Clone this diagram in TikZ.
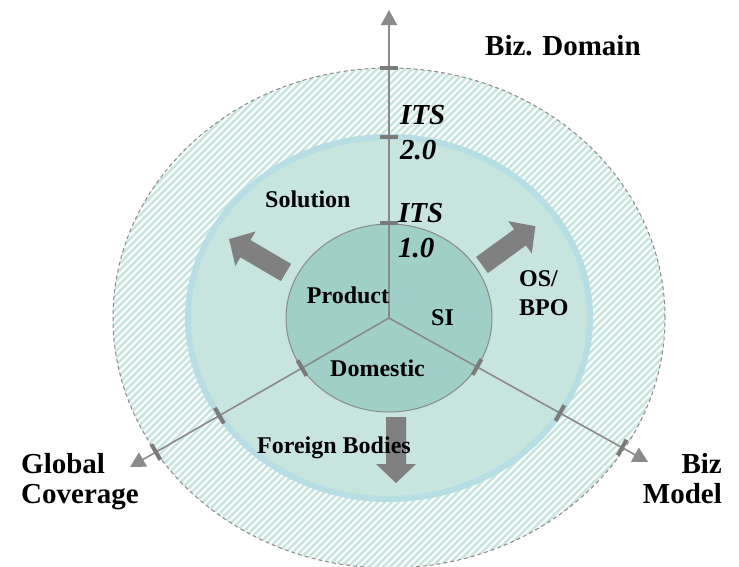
\documentclass[tikz,border=0pt]{standalone}
\usepackage{fontspec}
\setmainfont{Liberation Serif}
\usetikzlibrary{arrows.meta}
\definecolor{outerhatch}{HTML}{C9E5E0}
\definecolor{midfill}{HTML}{C8E4DF}
\definecolor{midborder}{HTML}{B7DEE4}
\definecolor{innerfill}{HTML}{A0CFC7}
\definecolor{linegray}{HTML}{8A8A8A}
\definecolor{arrowgray}{HTML}{808080}
\definecolor{tickgray}{HTML}{7A7A7A}
\tikzset{
  axisline/.style={draw=linegray, line width=1.6pt, -{Triangle[length=15pt,width=16pt]}},
  tickmark/.style={rectangle, fill=tickgray, minimum width=4pt, minimum height=18pt, inner sep=0pt, sloped},
  blockarrow/.style={fill=arrowgray},
  biglbl/.style={font=\bfseries\fontsize{29}{30}\selectfont, inner sep=0pt},
  itslbl/.style={font=\bfseries\itshape\fontsize{29}{35}\selectfont, inner sep=0pt, align=left},
  smalllbl/.style={font=\bfseries\fontsize{24}{29}\selectfont, inner sep=0pt},
}
\begin{document}
\begin{tikzpicture}[x=1pt,y=-1pt]
\useasboundingbox (0,0) rectangle (739,566);
\coordinate (C) at (389,318);
% outer hatched ring
\begin{scope}
  \clip (C) ellipse [x radius=276pt, y radius=250pt];
  \fill[white] (0,0) rectangle (739,600);
  \foreach \k in {0,...,175} {
    \draw[outerhatch, line width=2.6pt] (-520+\k*7,630) -- (80+\k*7,30);
  }
\end{scope}
\draw[linegray, line width=1pt, dash pattern=on 4pt off 3pt] (C) ellipse [x radius=276pt, y radius=250pt];
% middle ring
\draw[draw=midborder, line width=6pt, fill=midfill] (C) ellipse [x radius=201pt, y radius=181pt];
% inner circle
\draw[draw=linegray, line width=1pt, fill=innerfill] (C) ellipse [x radius=103pt, y radius=94pt];
% block arrows
\begin{scope}[shift={(286,272.5)}, rotate=149.6]
  \fill[blockarrow] (0,-10) -- (47,-10) -- (47,-20) -- (66,0) -- (47,20) -- (47,10) -- (0,10) -- cycle;
\end{scope}
\begin{scope}[shift={(482,265)}, rotate=36]
  \fill[blockarrow] (0,-10) -- (47,-10) -- (47,-20) -- (66,0) -- (47,20) -- (47,10) -- (0,10) -- cycle;
\end{scope}
\begin{scope}[shift={(396,417)}, rotate=-90]
  \fill[blockarrow] (0,-10) -- (47,-10) -- (47,-20) -- (66,0) -- (47,20) -- (47,10) -- (0,10) -- cycle;
\end{scope}
% axes
\coordinate (T) at (389,10);
\coordinate (L) at (130,467);
\coordinate (R) at (648,462);
\draw[axisline] (C) -- (T)
  node[tickmark, pos=.308] (t1) {} node[tickmark, pos=.588] (t2) {} node[tickmark, pos=.812] (t3) {};
\draw[axisline] (C) -- (L)
  node[tickmark, pos=.336] (l1) {} node[tickmark, pos=.655] (l2) {} node[tickmark, pos=.90] (l3) {};
\draw[axisline] (C) -- (R)
  node[tickmark, pos=.34] (r1) {} node[tickmark, pos=.66] (r2) {} node[tickmark, pos=.90] (r3) {};
% labels (multi-line nodes: base anchor = last line baseline)
\node[biglbl, anchor=base west] (dom) at (485,55) {Biz. Domain};
\node[biglbl, anchor=base west, align=left] (glob) at (21,503) {Global\\Coverage};
\node[biglbl, anchor=base east, align=right] (model) at (722,503) {Biz\\Model};
\node[itslbl, anchor=base west] (its2) at (400,159.3) {ITS\\2.0};
\node[itslbl, anchor=base west] (its1) at (398,257.3) {ITS\\1.0};
\node[smalllbl, anchor=base west] (sol) at (265,207) {Solution};
\node[smalllbl, anchor=base west] (prod) at (306.7,303.3) {Product};
\node[smalllbl, anchor=base west] (si) at (431,325) {SI};
\node[smalllbl, anchor=base west] (domestic) at (330,376) {Domestic};
\node[smalllbl, anchor=base west, align=left] (os) at (519,315) {OS/\\BPO};
\node[smalllbl, anchor=base west] (foreign) at (257,453) {Foreign Bodies};
\end{tikzpicture}
\end{document}
